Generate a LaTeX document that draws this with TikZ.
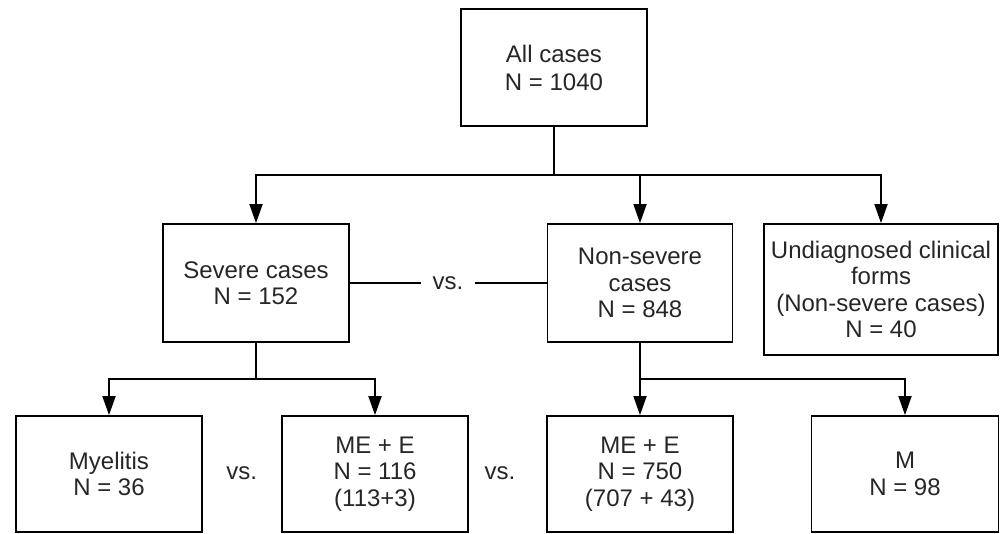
\documentclass[tikz,border=0pt]{standalone}
\usepackage{fontspec}
\setmainfont{Liberation Sans}
\usetikzlibrary{arrows.meta}
\begin{document}
\begin{tikzpicture}[x=1pt,y=-1pt,
  box/.style={draw, line width=1.8pt, align=center, inner sep=2pt,
    font=\fontsize{24}{26.5}\selectfont, text=black!85},
  line/.style={line width=1.8pt},
  arr/.style={line width=1.8pt, -{Triangle[width=13pt,length=19pt]}},
  vslabel/.style={inner xsep=11pt, font=\fontsize{24}{26.5}\selectfont, text=black!85}]
\useasboundingbox (0,0) rectangle (1005,534);
\node[box, minimum width=186pt, minimum height=117pt] (top) at (554,67.7) {All cases\\[2pt]N = 1040};
\node[box, minimum width=186pt, minimum height=118pt] (sev) at (256,283) {Severe cases\\N = 152};
\node[box, minimum width=185pt, minimum height=118pt] (non) at (640,283) {Non-severe\\cases\\N = 848};
\node[box, minimum width=234pt, minimum height=131pt] (und) at (881,289.5) {Undiagnosed clinical\\forms\\(Non-severe cases)\\N = 40};
\node[box, minimum width=186pt, minimum height=116pt] (mye) at (109,474) {Myelitis\\N = 36};
\node[box, minimum width=186pt, minimum height=116pt] (me1) at (375,474) {ME + E\\N = 116\\(113+3)};
\node[box, minimum width=186pt, minimum height=116pt] (me2) at (640,474) {ME + E\\N = 750\\(707 + 43)};
\node[box, minimum width=187pt, minimum height=116pt] (mm) at (905,474) {M\\N = 98};
\node[vslabel] (vs1) at (448,283) {vs.};
\node[vslabel] (vs2) at (241.7,473) {vs.};
\node[vslabel] (vs3) at (500,473) {vs.};
\coordinate (j1) at (554,175);
\coordinate (j2) at (256,379);
\coordinate (j3) at (640,379);
\draw[line] (top.south) -- (j1);
\draw[arr] (j1) -| (sev.north);
\draw[arr] (j1) -| (non.north);
\draw[arr] (j1) -| (und.north);
\draw[line] (sev.south) -- (j2);
\draw[arr] (j2) -| (mye.north);
\draw[arr] (j2) -| (me1.north);
\draw[arr] (non.south) -- (me2.north);
\draw[arr] (j3) -| (mm.north);
\draw[line] (sev.east) -- (vs1.west);
\draw[line] (vs1.east) -- (non.west);
\end{tikzpicture}
\end{document}
